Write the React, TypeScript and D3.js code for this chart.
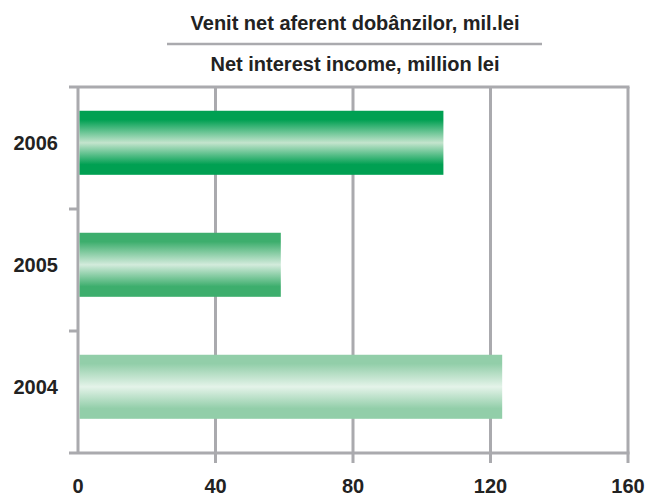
import React from 'react';
import * as d3 from 'd3';

const titleRo = 'Venit net aferent dobânzilor, mil.lei';
const titleEn = 'Net interest income, million lei';
const years = ['2006', '2005', '2004'];
const values = [106.3, 59, 123.4];
const xTicks = [0, 40, 80, 120, 160];
const edgeColors = ['#00a052', '#3dae6d', '#92cea9'];
const midColors = ['#c4e4cd', '#d3ebdc', '#e4f3e9'];

const width = 648;
const height = 497;
const margin = { top: 87, right: 20, bottom: 44, left: 78 };
const grid = '#aaaaae';
const font = 'Arial, "Liberation Sans", Helvetica, sans-serif';

export default function App() {
  const x = d3.scaleLinear()
    .domain([0, 160])
    .range([margin.left, 628]);

  const yBand = d3.scaleBand()
    .domain(years)
    .range([margin.top, height - margin.bottom]);

  const yBar = d3.scaleBand()
    .domain(years)
    .range([margin.top, height - margin.bottom])
    .paddingInner(0.475)
    .paddingOuter(0.2375)
    .align(0.41);

  const bottom = height - margin.bottom;
  const right = x(160);

  return (
    <svg width={width} height={height} style={{ position: 'absolute', left: 0, top: 0 }}
      fontFamily={font}>
      <defs>
        {years.map((yr, i) => (
          <linearGradient key={yr} id={`g${yr}`} x1="0" y1="0" x2="0" y2="1">
            <stop offset="0" stopColor={edgeColors[i]} />
            <stop offset="0.14" stopColor={edgeColors[i]} />
            <stop offset="0.5" stopColor={midColors[i]} />
            <stop offset="0.84" stopColor={edgeColors[i]} />
            <stop offset="1" stopColor={edgeColors[i]} />
          </linearGradient>
        ))}
      </defs>
      <rect width={width} height={height} fill="#fff" />

      {/* titles */}
      <text x={355} y={30} textAnchor="middle" fontSize={20} fontWeight="bold" fill="#222">{titleRo}</text>
      <line x1={167} x2={542} y1={44} y2={44} stroke={grid} strokeWidth={2.5} />
      <text x={355} y={71} textAnchor="middle" fontSize={20} fontWeight="bold" fill="#222">{titleEn}</text>

      {/* vertical grid lines + x ticks */}
      {xTicks.slice(1).map(t => (
        <line key={t} x1={x(t)} x2={x(t)} y1={margin.top} y2={bottom + 10} stroke={grid} strokeWidth={3} />
      ))}
      {/* top line */}
      <line x1={margin.left - 9} x2={right + 1.5} y1={margin.top} y2={margin.top} stroke={grid} strokeWidth={3} />
      {/* bottom axis */}
      <line x1={margin.left - 9} x2={right + 1.5} y1={bottom} y2={bottom} stroke={grid} strokeWidth={3} />
      {/* left axis */}
      <line x1={margin.left} x2={margin.left} y1={margin.top} y2={bottom} stroke={grid} strokeWidth={3} />
      {years.slice(1).map(yr => (
        <line key={yr} x1={margin.left - 9} x2={margin.left} y1={yBand(yr)} y2={yBand(yr)} stroke={grid} strokeWidth={3} />
      ))}

      {/* bars */}
      {years.map((yr, i) => (
        <rect key={yr} x={x(0) + 1.5} y={yBar(yr)} width={x(values[i]) - x(0) - 1.5}
          height={yBar.bandwidth()} fill={`url(#g${yr})`} />
      ))}

      {/* y labels */}
      {years.map(yr => (
        <text key={yr} x={58} y={(yBar(yr) as number) + yBar.bandwidth() / 2} dy="0.35em"
          textAnchor="end" fontSize={20} fontWeight="bold" fill="#222">{yr}</text>
      ))}

      {/* x labels */}
      {xTicks.map(t => (
        <text key={t} x={x(t)} y={493} textAnchor="middle" fontSize={20} fontWeight="bold" fill="#222">{t}</text>
      ))}
    </svg>
  );
}
